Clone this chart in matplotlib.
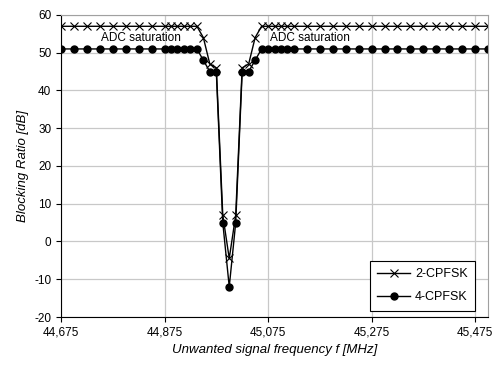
import matplotlib
matplotlib.use("Agg")
import matplotlib.pyplot as plt
from matplotlib.ticker import FuncFormatter

plt.rcParams['font.family'] = ['Liberation Sans', 'DejaVu Sans']
plt.rcParams['axes.unicode_minus'] = False

# Messwerte (Frequenz in MHz, Blocking Ratio in dB)
freq = [44.675, 44.700, 44.725, 44.750, 44.775, 44.800, 44.825, 44.850,
        44.875, 44.8875, 44.900, 44.9125, 44.925, 44.9375,
        44.950, 44.9625, 44.975, 44.9875, 45.000, 45.0125, 45.025, 45.0375, 45.050,
        45.0625, 45.075, 45.0875, 45.100, 45.1125, 45.125,
        45.150, 45.175, 45.200, 45.225, 45.250, 45.275, 45.300, 45.325,
        45.350, 45.375, 45.400, 45.425, 45.450, 45.475, 45.500]

br_2cpfsk = [57, 57, 57, 57, 57, 57, 57, 57,
             57, 57, 57, 57, 57, 57,
             54, 47, 46, 7, -4.5, 7, 46, 47, 54,
             57, 57, 57, 57, 57, 57,
             57, 57, 57, 57, 57, 57, 57, 57,
             57, 57, 57, 57, 57, 57, 57]

br_4cpfsk = [51, 51, 51, 51, 51, 51, 51, 51,
             51, 51, 51, 51, 51, 51,
             48, 45, 45, 5, -12, 5, 45, 45, 48,
             51, 51, 51, 51, 51, 51,
             51, 51, 51, 51, 51, 51, 51, 51,
             51, 51, 51, 51, 51, 51, 51]

xticks = [44.675, 44.875, 45.075, 45.275, 45.475]

fig = plt.figure(figsize=(4.96, 3.65), dpi=100)
ax = fig.add_axes([0.1230, 0.1315, 0.8610, 0.8275])

ax.plot(freq, br_2cpfsk, color='black', lw=1.0, marker='x', ms=5.5, mew=0.8, label='2-CPFSK')
ax.plot(freq, br_4cpfsk, color='black', lw=1.0, marker='o', ms=5, label='4-CPFSK')

ax.text(44.752, 54, 'ADC saturation', fontsize=8.5, va='center', ha='left')
ax.text(45.078, 54, 'ADC saturation', fontsize=8.5, va='center', ha='left')

ax.set_xlim(44.675, 45.5)
ax.set_ylim(-20, 60)
ax.set_xticks(xticks)
ax.set_yticks(range(-20, 61, 10))
ax.xaxis.set_major_formatter(FuncFormatter(lambda v, p: ('%.3f' % v).replace('.', ',')))
ax.grid(True, color='#c8c8c8', lw=0.9)
ax.set_axisbelow(True)
ax.tick_params(direction='out', length=3.5, width=0.8, labelsize=8.5, color='black')

for s in ['top', 'right']:
    ax.spines[s].set_color('#a0a0a0')
for s in ['left', 'bottom']:
    ax.spines[s].set_color('black')

ax.set_xlabel('Unwanted signal frequency f [MHz]', fontsize=9.5, style='italic')
ax.set_ylabel('Blocking Ratio [dB]', fontsize=9.5, style='italic')

leg = ax.legend(loc='lower right', bbox_to_anchor=(0.9695, 0.02), fontsize=9,
                fancybox=False, framealpha=1, edgecolor='black', borderaxespad=0,
                handlelength=2.6, labelspacing=0.9, borderpad=0.6, handletextpad=0.4)
leg.get_frame().set_linewidth(0.8)

fig.savefig('out.png', dpi=100)
